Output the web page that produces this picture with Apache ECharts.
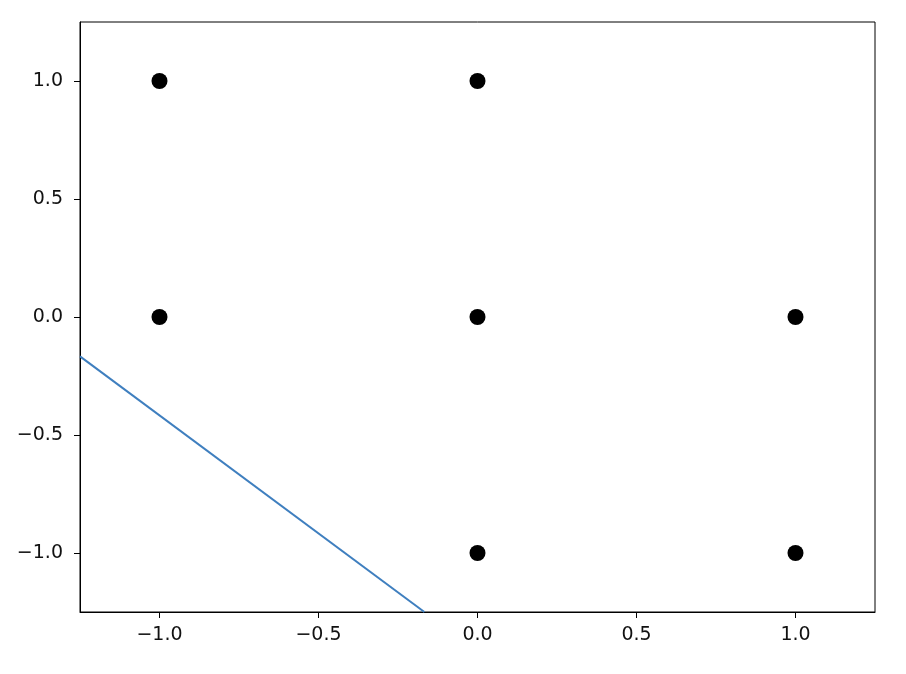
<!DOCTYPE html>
<html>
<head>
<meta charset="utf-8">
<script src="https://cdn.jsdelivr.net/npm/echarts@6/dist/echarts.min.js"></script>
<style>html,body{margin:0;padding:0;background:#fff;}#c{width:906px;height:674px;}</style>
</head>
<body>
<div id="c"></div>
<script>
const pointsX = [-1, 0, -1, 0, 1, 0, 1];
const pointsY = [1, 1, 0, 0, 0, -1, -1];
const lineX = [-1.25, -0.167];
const lineY = [-0.167, -1.25];
const xTicks = [-1.0, -0.5, 0.0, 0.5, 1.0];
const yTicks = [-1.0, -0.5, 0.0, 0.5, 1.0];

const fmt = v => Number(v).toFixed(1).replace('-', '\u2212');
const chart = echarts.init(document.getElementById('c'), null, {renderer: 'canvas'});
const axisCommon = {
  type: 'value', min: -1.25, max: 1.25,
  splitLine: {show: false},
  axisLine: {show: true, onZero: false, lineStyle: {color: '#000', width: 1}},
  axisTick: {show: true, length: 6, lineStyle: {color: '#000', width: 1}},
  axisLabel: {color: '#111', fontFamily: 'DejaVu Sans', fontSize: 19, margin: 16, formatter: fmt}
};
chart.setOption({
  animation: false,
  backgroundColor: '#fff',
  grid: {left: 80, right: 31, top: 22, bottom: 62, show: true, borderColor: '#000', borderWidth: 1, backgroundColor: 'transparent'},
  xAxis: Object.assign({}, axisCommon, {
    axisTick: Object.assign({}, axisCommon.axisTick, {customValues: xTicks}),
    axisLabel: Object.assign({}, axisCommon.axisLabel, {customValues: xTicks, margin: 14})
  }),
  yAxis: Object.assign({}, axisCommon, {
    axisTick: Object.assign({}, axisCommon.axisTick, {customValues: yTicks}),
    axisLabel: Object.assign({}, axisCommon.axisLabel, {customValues: yTicks, margin: 17})
  }),
  series: [
    {
      type: 'line',
      data: lineX.map((x, i) => [x, lineY[i]]),
      showSymbol: false,
      lineStyle: {color: '#3f7fbf', width: 2},
      z: 2
    },
    {
      type: 'scatter',
      data: pointsX.map((x, i) => [x, pointsY[i]]),
      symbolSize: 16,
      itemStyle: {color: '#000', opacity: 1},
      z: 3
    }
  ]
});
</script>
</body>
</html>
